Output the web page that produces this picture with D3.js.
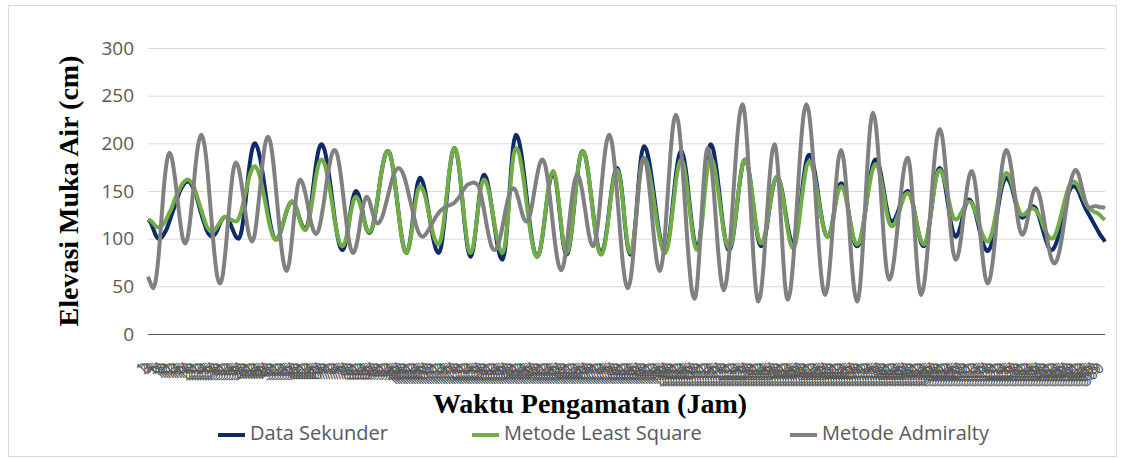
<!DOCTYPE html>
<html>
<head>
<meta charset="utf-8">
<script src="https://cdn.jsdelivr.net/npm/d3@7"></script>
<style>
  body { margin: 0; background: #fff; }
</style>
</head>
<body>
<div id="chart"></div>
<script>
// hourly observation labels (Jam ke-)
const hours = d3.range(1, 361).map(String);

const yTicks = [0, 50, 100, 150, 200, 250, 300];

const dataSekunder = [
  120,117,110,103,100,101,105,110,118,126,
  134,142,150,155,159,160,158,153,146,136,
  126,117,109,104,102,104,109,116,121,123,
  121,115,108,102,100,107,125,150,175,193,
  200,196,185,169,150,130,114,103,99,102,
  109,119,129,136,139,136,129,120,113,110,
  116,132,155,177,193,199,195,183,165,144,
  122,104,92,88,94,109,129,144,150,146,
  135,121,110,106,110,122,139,159,176,188,
  192,187,172,150,127,105,90,85,93,112,
  137,156,164,160,149,133,116,100,89,85,
  92,113,140,168,188,195,187,167,138,110,
  89,81,89,111,137,159,167,163,150,132,
  113,95,82,78,90,123,164,197,209,204,
  190,169,145,121,100,86,81,87,103,125,
  147,163,169,161,139,113,91,83,90,110,
  138,165,185,192,187,172,150,127,105,90,
  85,91,107,130,152,168,174,166,144,113,
  91,83,94,122,158,186,197,193,181,163,
  142,121,103,91,87,94,113,140,166,185,
  192,185,167,141,116,97,90,100,128,161,
  189,199,194,178,156,131,109,93,88,94,
  112,136,159,177,183,177,160,138,115,98,
  92,97,110,129,147,160,165,160,148,130,
  113,100,95,101,118,142,165,182,188,184,
  172,155,135,118,106,102,107,121,139,153,
  158,154,142,125,109,96,92,96,109,127,
  148,166,179,183,179,167,151,134,122,118,
  120,126,134,142,148,150,146,136,121,107,
  96,92,97,113,133,154,169,174,169,156,
  138,120,107,102,106,115,128,137,141,138,
  131,120,108,97,90,87,91,101,117,134,
  150,160,164,161,154,143,132,125,122,124,
  128,132,134,132,125,116,106,97,90,88,
  91,98,109,122,134,145,152,155,154,150,
  143,136,130,125,120,115,110,105,101,97
];

const leastSquare = [
  120,119,116,113,112,113,116,121,127,133,
  141,147,153,158,161,162,160,156,148,139,
  130,121,113,109,107,109,113,117,121,123,
  122,120,119,118,121,129,141,153,165,173,
  176,173,165,152,138,123,110,102,99,102,
  109,119,129,136,139,136,129,119,112,109,
  114,128,146,165,178,183,180,170,155,138,
  120,105,95,92,97,110,126,139,144,140,
  131,120,110,107,111,123,140,159,176,188,
  192,187,172,150,127,105,90,85,92,109,
  131,148,155,152,144,131,118,105,97,94,
  101,119,145,170,188,195,188,168,140,113,
  92,85,92,112,135,155,162,158,148,132,
  115,100,89,85,95,123,157,185,195,191,
  178,160,138,116,98,85,81,87,104,126,
  149,165,171,163,141,115,93,85,92,112,
  139,165,185,192,187,172,150,125,103,88,
  83,89,105,128,150,166,172,164,142,115,
  93,85,95,120,151,176,185,181,170,154,
  135,116,100,89,85,92,110,134,159,176,
  183,177,159,136,112,94,88,97,121,152,
  176,185,180,167,148,127,108,95,90,96,
  113,137,160,177,183,177,161,139,117,101,
  95,100,113,130,148,160,165,160,146,128,
  109,95,90,96,113,136,158,175,181,177,
  166,150,133,117,106,102,107,120,137,150,
  155,151,140,125,109,98,94,98,110,127,
  145,162,174,178,174,162,146,129,117,113,
  115,122,130,139,146,148,144,135,121,107,
  98,94,99,114,133,153,167,172,168,159,
  146,133,123,120,122,127,132,137,139,137,
  131,123,113,105,99,97,101,111,125,141,
  155,165,169,166,158,147,136,128,125,126,
  129,131,132,130,126,120,112,106,102,100,
  102,109,119,130,141,151,158,160,159,155,
  149,142,136,132,130,128,127,125,122,120
];

const admiralty = [
  60,53,48,58,83,119,155,180,190,184,
  166,143,119,101,95,103,124,152,181,201,
  209,201,180,148,114,82,60,53,61,85,
  117,148,172,180,174,159,139,118,103,97,
  104,125,152,180,200,207,200,180,152,121,
  92,73,66,75,99,129,153,162,158,148,
  134,119,109,105,109,122,139,159,176,189,
  193,188,173,151,127,105,90,85,91,105,
  124,138,144,140,130,120,116,118,124,134,
  145,156,166,172,174,172,166,156,144,132,
  120,110,104,102,104,108,113,118,123,127,
  130,132,134,135,136,138,141,145,150,154,
  157,158,159,158,155,145,131,115,101,91,
  88,91,100,113,128,141,150,153,150,141,
  130,121,118,122,134,151,167,179,183,177,
  161,138,112,89,73,67,74,92,117,142,
  160,167,162,148,130,111,97,92,100,121,
  151,180,201,209,201,179,146,111,78,56,
  48,57,82,117,151,176,185,177,155,126,
  96,74,66,77,107,148,189,219,230,221,
  194,155,112,73,46,37,52,92,140,180,
  195,185,158,121,83,56,46,56,83,122,
  165,204,231,241,227,189,138,86,48,34,
  45,75,117,158,188,199,184,143,92,51,
  36,46,75,116,161,202,231,241,231,203,
  163,119,79,51,41,51,79,117,155,183,
  193,182,153,114,74,45,34,47,84,133,
  183,219,232,220,188,145,101,69,57,63,
  81,107,135,161,179,185,171,135,91,55,
  41,50,74,109,147,182,206,215,206,181,
  147,112,87,78,84,101,125,148,165,171,
  163,142,112,83,61,53,60,79,107,139,
  167,186,193,187,171,149,126,110,104,109,
  121,136,148,153,149,138,122,105,89,78,
  74,78,88,104,123,142,158,168,172,168,
  158,146,136,132,133,134,134,133,133,132
];

const seriesNames = ["Data Sekunder", "Metode Least Square", "Metode Admiralty"];
const seriesColors = ["#0f2a6b", "#70ad47", "#808080"];

const W = 1121, H = 459;
const plot = { left: 148, right: 1105, top: 48, bottom: 334 };
const sans = "'Open Sans', Lato, sans-serif";
const serif = "'Liberation Serif', 'Times New Roman', serif";

const svg = d3.select("#chart")
    .append("svg")
    .attr("width", W)
    .attr("height", H)
    .style("font-family", sans);

// chart border
svg.append("rect")
    .attr("x", 8.5).attr("y", 5.5)
    .attr("width", 1108).attr("height", 451)
    .attr("fill", "#fff")
    .attr("stroke", "#d9d9d9");

const x = d3.scalePoint()
    .domain(hours)
    .range([plot.left, plot.right]);

const y = d3.scaleLinear()
    .domain([0, 300])
    .range([plot.bottom, plot.top]);

// gridlines + y labels
const yAxis = svg.append("g")
    .attr("transform", `translate(${plot.left},0)`)
    .call(d3.axisLeft(y).tickValues(yTicks).tickSize(-(plot.right - plot.left)).tickPadding(14));
yAxis.select(".domain").remove();
yAxis.selectAll(".tick line")
    .attr("stroke", d => d === 0 ? "#5a5a5a" : "#d9d9d9");
yAxis.selectAll(".tick text")
    .attr("fill", "#595959")
    .style("font-size", "19px")
    .style("font-family", sans);

// x labels: 360 rotated hour labels, they pile up into a band
const xAxis = svg.append("g");
xAxis.selectAll("text")
    .data(hours)
    .join("text")
    .attr("transform", d => `translate(${x(d)},369) rotate(-45)`)
    .attr("text-anchor", "end")
    .attr("fill", "#595959")
    .style("font-size", "15px")
    .text(d => d);

// lines
const line = d3.line()
    .x((d, i) => x(hours[i]))
    .y(d => y(d))
    .curve(d3.curveMonotoneX);

[dataSekunder, leastSquare, admiralty].forEach((values, k) => {
    svg.append("path")
        .datum(values)
        .attr("fill", "none")
        .attr("stroke", seriesColors[k])
        .attr("stroke-width", 4)
        .attr("stroke-linejoin", "round")
        .attr("d", line);
});

// axis titles
svg.append("text")
    .attr("transform", "translate(72,191) rotate(-90)")
    .attr("text-anchor", "middle")
    .attr("dominant-baseline", "middle")
    .style("font-family", serif)
    .style("font-weight", "bold")
    .style("font-size", "28px")
    .text("Elevasi Muka Air (cm)");

svg.append("text")
    .attr("x", 590)
    .attr("y", 407)
    .attr("text-anchor", "middle")
    .attr("dominant-baseline", "middle")
    .style("font-family", serif)
    .style("font-weight", "bold")
    .style("font-size", "28px")
    .text("Waktu Pengamatan (Jam)");

// legend
const legendX = [218, 472, 790];
const legend = svg.append("g")
    .selectAll("g")
    .data(seriesNames)
    .join("g")
    .attr("transform", (d, i) => `translate(${legendX[i]},435)`);
legend.append("line")
    .attr("x1", 0).attr("x2", 27)
    .attr("stroke", (d, i) => seriesColors[i])
    .attr("stroke-width", 4);
legend.append("text")
    .attr("x", 32)
    .attr("dominant-baseline", "middle")
    .attr("fill", "#595959")
    .style("font-size", "20px")
    .text(d => d);
</script>
</body>
</html>
